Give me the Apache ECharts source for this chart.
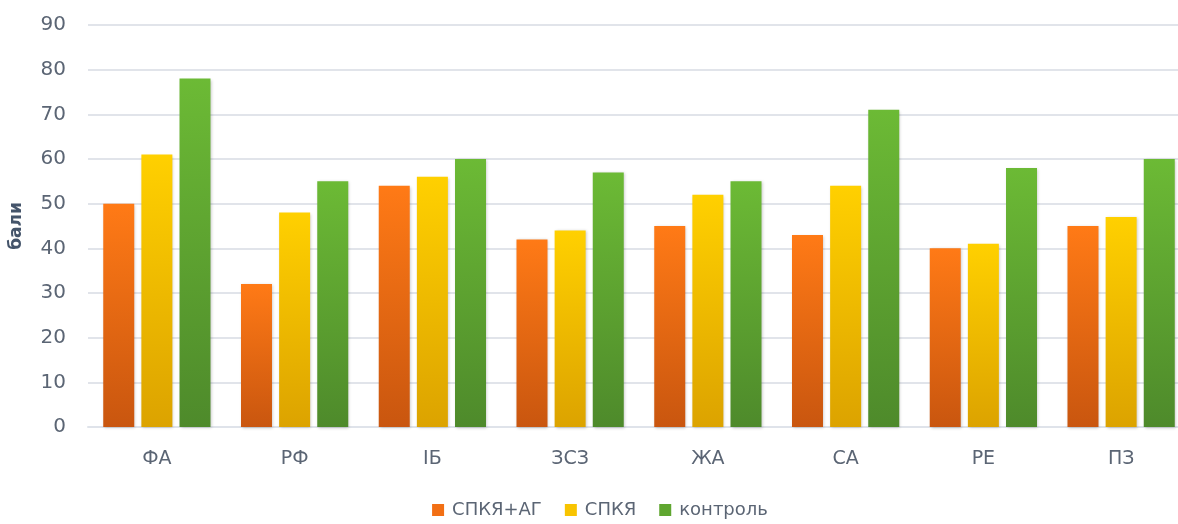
<!DOCTYPE html>
<html>
<head>
<meta charset="utf-8">
<script src="https://cdn.jsdelivr.net/npm/echarts@6/dist/echarts.min.js"></script>
<style>
  html, body { margin: 0; padding: 0; background: #ffffff; overflow: hidden; }
  /* canvas is a bit wider than the page so the plot runs off the right edge */
  #chart { width: 1200px; height: 524px; }
</style>
</head>
<body>
<div id="chart"></div>
<script>
// Scale categories and scores (points) per group
var categories = ['ФА', 'РФ', 'ІБ', 'ЗСЗ', 'ЖА', 'СА', 'РЕ', 'ПЗ'];
var seriesNames = ['СПКЯ+АГ', 'СПКЯ', 'контроль'];
var pcosAh = [50, 32, 54, 42, 45, 43, 40, 45];
var pcos = [61, 48, 56, 44, 52, 54, 41, 47];
var control = [78, 55, 60, 57, 55, 71, 58, 60];
var yTicks = { min: 0, max: 90, interval: 10 };

function grad(top, bottom) {
  return {
    type: 'linear', x: 0, y: 0, x2: 0, y2: 1,
    colorStops: [{ offset: 0, color: top }, { offset: 1, color: bottom }]
  };
}

var palette = [
  ['#ff7a16', '#c9560f', '#f26f14'],
  ['#ffd000', '#dca300', '#f8c400'],
  ['#6cba35', '#4e8a2b', '#5fa630']
];

var values = [pcosAh, pcos, control];
var textColor = '#5b6574';
var fontFamily = '"DejaVu Sans", "Noto Sans", sans-serif';

var chart = echarts.init(document.getElementById('chart'));
chart.setOption({
  animation: false,
  textStyle: { fontFamily: fontFamily },
  grid: { left: 88, right: 10, top: 25, bottom: 97, containLabel: false },
  legend: {
    bottom: 0,
    left: 'center',
    itemWidth: 12,
    itemHeight: 12,
    itemGap: 23,
    icon: 'rect',
    textStyle: { color: textColor, fontSize: 18, fontFamily: fontFamily, padding: [0, 0, 0, 3] },
    data: seriesNames.map(function (n, i) {
      return { name: n, itemStyle: { color: palette[i][2] } };
    })
  },
  xAxis: {
    type: 'category',
    data: categories,
    axisTick: { show: false },
    axisLine: { lineStyle: { color: '#dfe3ea', width: 2 } },
    axisLabel: { color: textColor, fontSize: 19, margin: 23 }
  },
  yAxis: {
    type: 'value',
    min: yTicks.min,
    max: yTicks.max,
    interval: yTicks.interval,
    name: 'бали',
    nameLocation: 'middle',
    nameGap: 63,
    nameRotate: 90,
    nameTextStyle: { color: '#44546a', fontSize: 17, fontWeight: 'bold' },
    axisLine: { show: false },
    axisTick: { show: false },
    axisLabel: { color: textColor, fontSize: 20, margin: 22 },
    splitLine: { lineStyle: { color: '#e1e4ea', width: 2 } }
  },
  series: seriesNames.map(function (n, i) {
    return {
      name: n,
      type: 'bar',
      data: values[i],
      barWidth: 31,
      barGap: '23%',
      barCategoryGap: '22%',
      itemStyle: {
        color: grad(palette[i][0], palette[i][1]),
        shadowBlur: 3,
        shadowColor: 'rgba(0,0,0,0.22)',
        shadowOffsetX: 1,
        shadowOffsetY: 1
      }
    };
  })
});
</script>
</body>
</html>
